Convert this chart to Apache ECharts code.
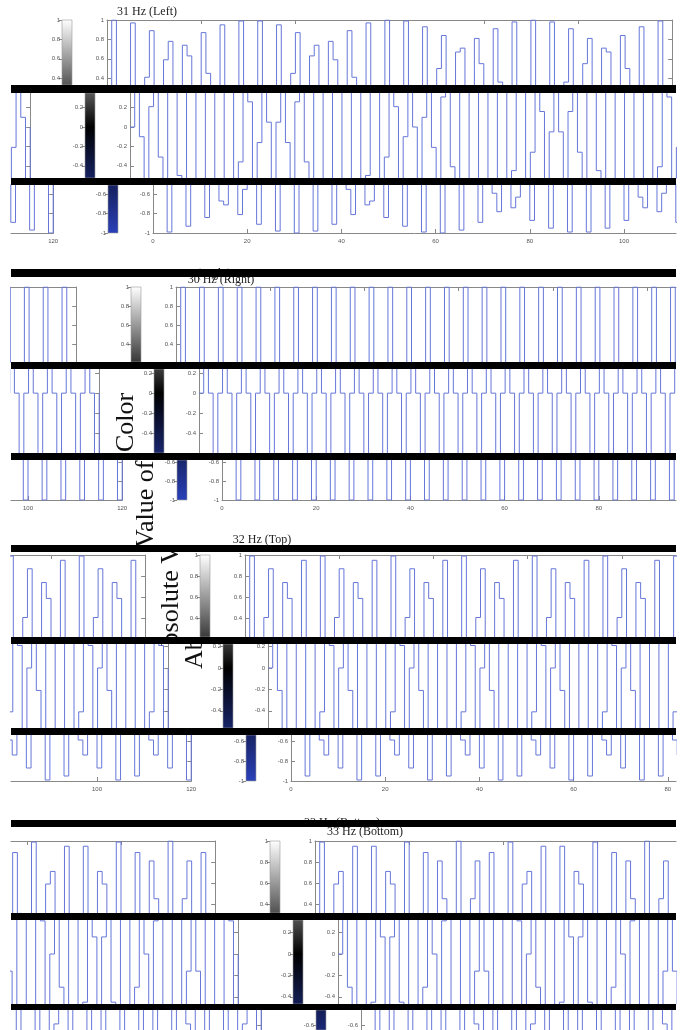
<!DOCTYPE html>
<html>
<head>
<meta charset="utf-8">
<script src="https://cdn.jsdelivr.net/npm/echarts@6/dist/echarts.min.js"></script>
<style>html,body{margin:0;padding:0;background:#fff}#c{width:686px;height:1030px}</style>
</head>
<body>
<div id="c"></div>
<script>
// ---------------- DATA (frame-by-frame stimulus values, frames 0..120) ----------------
const panelTitles = ['31 Hz (Left)', '30 Hz (Right)', '32 Hz (Top)', '33 Hz (Bottom)'];
const colorbarName = 'Absolute Value of Color';

const hz31 = [
  0, 1.00, -0.10, -0.99, 0.21, 0.97, -0.31, -0.93, 0.41, 0.89,
  -0.50, -0.84, 0.59, 0.78, -0.67, -0.71, 0.74, 0.63, -0.81, -0.55,
  0.87, 0.45, -0.91, -0.36, 0.95, 0.26, -0.98, -0.16, 0.99, 0.05,
  -1.00, 0.05, 0.99, -0.16, -0.98, 0.26, 0.95, -0.36, -0.91, 0.45,
  0.87, -0.55, -0.81, 0.63, 0.74, -0.71, -0.67, 0.78, 0.59, -0.84,
  -0.50, 0.89, 0.41, -0.93, -0.31, 0.97, 0.21, -0.99, -0.10, 1.00,
  0, -1.00, 0.10, 0.99, -0.21, -0.97, 0.31, 0.93, -0.41, -0.89,
  0.50, 0.84, -0.59, -0.78, 0.67, 0.71, -0.74, -0.63, 0.81, 0.55,
  -0.87, -0.45, 0.91, 0.36, -0.95, -0.26, 0.98, 0.16, -0.99, -0.05,
  1.00, -0.05, -0.99, 0.16, 0.98, -0.26, -0.95, 0.36, 0.91, -0.45,
  -0.87, 0.55, 0.81, -0.63, -0.74, 0.71, 0.67, -0.78, -0.59, 0.84,
  0.50, -0.89, -0.41, 0.93, 0.31, -0.97, -0.21, 0.99, 0.10, -1.00,
  0
];
const hz30 = [
  0, 1, 0, -1, 0, 1, 0, -1, 0, 1, 0, -1, 0, 1, 0, -1, 0, 1, 0, -1,
  0, 1, 0, -1, 0, 1, 0, -1, 0, 1, 0, -1, 0, 1, 0, -1, 0, 1, 0, -1,
  0, 1, 0, -1, 0, 1, 0, -1, 0, 1, 0, -1, 0, 1, 0, -1, 0, 1, 0, -1,
  0, 1, 0, -1, 0, 1, 0, -1, 0, 1, 0, -1, 0, 1, 0, -1, 0, 1, 0, -1,
  0, 1, 0, -1, 0, 1, 0, -1, 0, 1, 0, -1, 0, 1, 0, -1, 0, 1, 0, -1,
  0, 1, 0, -1, 0, 1, 0, -1, 0, 1, 0, -1, 0, 1, 0, -1, 0, 1, 0, -1,
  0
];
const hz32 = [
  0, 0.99, -0.21, -0.95, 0.41, 0.87, -0.59, -0.74, 0.74, 0.59, -0.87, -0.41, 0.95, 0.21, -0.99,
  0, 0.99, -0.21, -0.95, 0.41, 0.87, -0.59, -0.74, 0.74, 0.59, -0.87, -0.41, 0.95, 0.21, -0.99,
  0, 0.99, -0.21, -0.95, 0.41, 0.87, -0.59, -0.74, 0.74, 0.59, -0.87, -0.41, 0.95, 0.21, -0.99,
  0, 0.99, -0.21, -0.95, 0.41, 0.87, -0.59, -0.74, 0.74, 0.59, -0.87, -0.41, 0.95, 0.21, -0.99,
  0, 0.99, -0.21, -0.95, 0.41, 0.87, -0.59, -0.74, 0.74, 0.59, -0.87, -0.41, 0.95, 0.21, -0.99,
  0, 0.99, -0.21, -0.95, 0.41, 0.87, -0.59, -0.74, 0.74, 0.59, -0.87, -0.41, 0.95, 0.21, -0.99,
  0, 0.99, -0.21, -0.95, 0.41, 0.87, -0.59, -0.74, 0.74, 0.59, -0.87, -0.41, 0.95, 0.21, -0.99,
  0, 0.99, -0.21, -0.95, 0.41, 0.87, -0.59, -0.74, 0.74, 0.59, -0.87, -0.41, 0.95, 0.21, -0.99,
  0
];
const hz33 = [
  0, 0.99, -0.31, -0.89, 0.59, 0.71, -0.81, -0.45, 0.95, 0.16, -1, 0.16, 0.95, -0.45, -0.81, 0.71, 0.59, -0.89, -0.31, 0.99,
  0, -0.99, 0.31, 0.89, -0.59, -0.71, 0.81, 0.45, -0.95, -0.16, 1, -0.16, -0.95, 0.45, 0.81, -0.71, -0.59, 0.89, 0.31, -0.99,
  0, 0.99, -0.31, -0.89, 0.59, 0.71, -0.81, -0.45, 0.95, 0.16, -1, 0.16, 0.95, -0.45, -0.81, 0.71, 0.59, -0.89, -0.31, 0.99,
  0, -0.99, 0.31, 0.89, -0.59, -0.71, 0.81, 0.45, -0.95, -0.16, 1, -0.16, -0.95, 0.45, 0.81, -0.71, -0.59, 0.89, 0.31, -0.99,
  0, 0.99, -0.31, -0.89, 0.59, 0.71, -0.81, -0.45, 0.95, 0.16, -1, 0.16, 0.95, -0.45, -0.81, 0.71, 0.59, -0.89, -0.31, 0.99,
  0, -0.99, 0.31, 0.89, -0.59, -0.71, 0.81, 0.45, -0.95, -0.16, 1, -0.16, -0.95, 0.45, 0.81, -0.71, -0.59, 0.89, 0.31, -0.99,
  0
];
const panelValues = [hz31, hz30, hz32, hz33];
const xTickValues = [0, 20, 40, 60, 80, 100, 120];
const yTickValues = [1, 0.8, 0.6, 0.4, 0.2, 0, -0.2, -0.4, -0.6, -0.8, -1];
const frameCount = 120;

// ---------------- LAYOUT (torn / wrapped scan of the figure) ----------------
const S = 4.71;          // px per frame
const WRAP = 665;        // wrap width of the torn image
const L = 11, R = 676;   // content area
const SHIFT = 23;        // horizontal shift between bands
const layout = [
  { x0: 107, strips: [{t: 20, b: 85, vt: 1, vb: 0.330}, {t: 93, b: 178, vt: 0.351, vb: -0.526}, {t: 185, b: 233, vt: -0.505, vb: -1}] },
  { x0: 176, strips: [{t: 287, b: 362, vt: 1, vb: 0.211}, {t: 369, b: 453, vt: 0.24, vb: -0.595}, {t: 460, b: 500, vt: -0.579, vb: -1}] },
  { x0: 245, strips: [{t: 555, b: 637, vt: 1, vb: 0.226}, {t: 644, b: 728, vt: 0.224, vb: -0.561}, {t: 735, b: 781, vt: -0.54, vb: -1}] },
  { x0: 315, strips: [{t: 841, b: 913, vt: 1, vb: 0.314}, {t: 920, b: 1004, vt: 0.318, vb: -0.467}, {t: 1010, b: 1030, vt: -0.457, vb: -0.648, cut: true}] }
];
const bars = [[85, 93], [178, 185], [269, 277], [362, 369], [453, 460], [545, 552], [637, 644], [728, 735], [820, 827], [913, 920], [1004, 1010]];
const titlePos = [
  {x: 147, y: 12}, {x: 221, y: 280}, {x: 262, y: 540}, {x: 365, y: 832}
];
const ghostTitles = [
  {p: 1, x: 198, y: 274}, {p: 3, x: 342, y: 823}
];

const LINE = '#6676d8';
const AX = '#888';
const LBL = {fontSize: 6, color: '#555', fontFamily: 'Liberation Sans'};

function cmap(v) {
  if (v >= 0) { const g = Math.round(255 * v); return 'rgb(' + g + ',' + g + ',' + g + ')'; }
  const a = -v;
  return 'rgb(' + Math.round(42 * a) + ',' + Math.round(64 * a) + ',' + Math.round(185 * a) + ')';
}
function grad(vt, vb) {
  const stops = [{offset: 0, color: cmap(vt)}];
  if (vt > 0 && vb < 0) stops.push({offset: vt / (vt - vb), color: '#000'});
  stops.push({offset: 1, color: cmap(vb)});
  return new echarts.graphic.LinearGradient(0, 0, 0, 1, stops);
}
const inRange = (arr, lo, hi) => arr.filter(v => v >= lo - 1e-6 && v <= hi + 1e-6);

const grid = [], xAxis = [], yAxis = [], series = [];

layout.forEach((panel, p) => {
  const vals = panelValues[p];
  const data = vals.map((v, i) => [i, v]);
  panel.strips.forEach((st, k) => {
    const x0 = panel.x0 + k * SHIFT;
    const h = st.b - st.t;
    const yt = inRange(yTickValues, st.vb, st.vt);
    const plotEnd = x0 + frameCount * S;
    const right = Math.min(plotEnd, R);
    const lineSeries = (xi, yi) => ({
      type: 'line', xAxisIndex: xi, yAxisIndex: yi, data: data, step: 'end',
      showSymbol: false, symbol: 'none', clip: true, silent: true, animation: false,
      lineStyle: {color: LINE, width: 1}
    });
    const xAx = (gi, min, max) => {
      const xt = inRange(xTickValues, min, max);
      return {
        gridIndex: gi, type: 'value', min: min, max: max,
        position: k === 0 ? 'top' : 'bottom', show: k !== 1 && !st.cut,
        axisLine: {show: true, lineStyle: {color: AX, width: 1}},
        axisTick: {show: true, inside: true, length: 4, customValues: xt, lineStyle: {color: AX}},
        axisLabel: Object.assign({show: k === 2, margin: 5, customValues: xt}, LBL),
        splitLine: {show: false}
      };
    };
    // main plot strip
    grid.push({left: x0, top: st.t, width: right - x0, height: h});
    let gi = grid.length - 1;
    xAxis.push(xAx(gi, 0, (right - x0) / S));
    let xi = xAxis.length - 1;
    yAxis.push({
      gridIndex: gi, type: 'value', min: st.vb, max: st.vt, position: 'left',
      axisLine: {show: true, lineStyle: {color: AX, width: 1}},
      axisTick: {show: true, inside: true, length: 4, customValues: yt, lineStyle: {color: AX}},
      axisLabel: Object.assign({margin: 3, customValues: yt}, LBL),
      splitLine: {show: false}
    });
    let yi = yAxis.length - 1;
    if (plotEnd <= R) {
      yAxis.push({
        gridIndex: gi, type: 'value', min: st.vb, max: st.vt, position: 'right',
        axisLine: {show: true, lineStyle: {color: AX, width: 1}},
        axisTick: {show: true, inside: true, length: 4, customValues: yt, lineStyle: {color: AX}},
        axisLabel: {show: false}, splitLine: {show: false}
      });
    }
    series.push(lineSeries(xi, yi));

    // wrapped end of the plot on the left
    const xR = plotEnd - WRAP;
    if (xR > L + 3) {
      grid.push({left: L, top: st.t, width: xR - L, height: h});
      gi = grid.length - 1;
      xAxis.push(xAx(gi, frameCount - (xR - L) / S, frameCount));
      xi = xAxis.length - 1;
      yAxis.push({
        gridIndex: gi, type: 'value', min: st.vb, max: st.vt, position: 'right',
        axisLine: {show: true, lineStyle: {color: AX, width: 1}},
        axisTick: {show: true, inside: true, length: 4, customValues: yt, lineStyle: {color: AX}},
        axisLabel: {show: false}, splitLine: {show: false}
      });
      yi = yAxis.length - 1;
      series.push(lineSeries(xi, yi));
    }

    // colorbar slice
    grid.push({left: x0 - 45, top: st.t, width: 10, height: h});
    gi = grid.length - 1;
    xAxis.push({gridIndex: gi, type: 'value', min: 0, max: 1, show: false});
    xi = xAxis.length - 1;
    yAxis.push({
      gridIndex: gi, type: 'value', min: st.vb, max: st.vt, position: 'left',
      axisLine: {show: false},
      axisTick: {show: true, inside: false, length: 3, customValues: yt, lineStyle: {color: AX}},
      axisLabel: Object.assign({margin: 2, customValues: yt}, LBL),
      splitLine: {show: false}
    });
    yi = yAxis.length - 1;
    const g = grad(st.vt, st.vb);
    series.push({
      type: 'custom', xAxisIndex: xi, yAxisIndex: yi, silent: true, animation: false,
      data: [[0, st.vb, st.vt]],
      renderItem: function (params, api) {
        const a = api.coord([0, api.value(2)]);
        const b = api.coord([1, api.value(1)]);
        return {type: 'rect', shape: {x: a[0], y: a[1], width: b[0] - a[0], height: b[1] - a[1]},
          style: {fill: g, stroke: '#9a9a9a', lineWidth: 0.6}};
      }
    });
  });
});

// ---------------- decorations ----------------
const graphic = [];
ghostTitles.forEach(gt => graphic.push({
  type: 'text', x: gt.x, y: gt.y, z: 40,
  style: {text: panelTitles[gt.p], font: '12px "Liberation Serif"', fill: '#222', textAlign: 'center', textVerticalAlign: 'middle'}
}));
titlePos.forEach((tp, p) => graphic.push({
  type: 'text', x: tp.x, y: tp.y, z: 45,
  style: {text: panelTitles[p], font: '12px "Liberation Serif"', fill: '#222', textAlign: 'center', textVerticalAlign: 'middle'}
}));
// torn pieces of the colorbar label
const words = colorbarName.split(' ');           // Absolute, Value, of, Color
const labelPieces = [
  {text: words[3], x: 126, y: 452, align: 'left'},
  {text: words[1] + ' ' + words[2], x: 146, y: 548, align: 'left'},
  {text: words[0].slice(1) + ' ' + words[1][0], x: 171, y: 545, align: 'right'},
  {text: words[0].slice(0, 2), x: 195, y: 669, align: 'left'}
];
labelPieces.forEach(lp => graphic.push({
  type: 'text', x: lp.x, y: lp.y, rotation: Math.PI / 2, z: 60,
  style: {text: lp.text, font: '26px "Liberation Serif"', fill: '#111', textAlign: lp.align, textVerticalAlign: 'middle'}
}));
bars.forEach(b => graphic.push({
  type: 'rect', z: 100, shape: {x: L, y: b[0], width: R - L, height: b[1] - b[0]}, style: {fill: '#000'}
}));

const chart = echarts.init(document.getElementById('c'), null, {renderer: 'canvas', width: 686, height: 1030});
chart.setOption({
  animation: false,
  backgroundColor: '#fff',
  grid: grid, xAxis: xAxis, yAxis: yAxis, series: series, graphic: graphic
});
</script>
</body>
</html>
